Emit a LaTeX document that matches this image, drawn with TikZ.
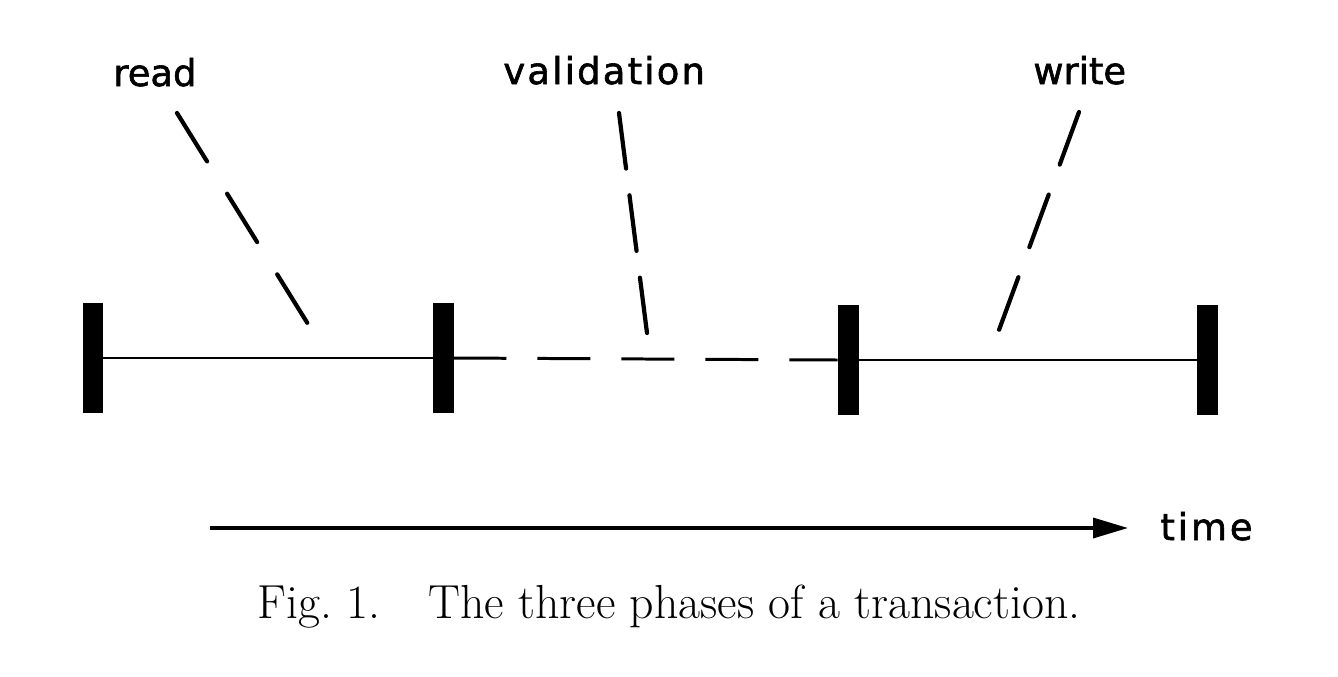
\documentclass[tikz,border=0pt]{standalone}
\usepackage{fontspec}
\newfontfamily\labelfont[FakeBold=1.6]{DejaVu Sans}
\usetikzlibrary{arrows.meta}
\begin{document}
\begin{tikzpicture}[x=0.02cm,y=-0.02cm,
  bar/.style={fill=black,inner sep=0pt,outer sep=0pt,minimum width=0.42cm,minimum height=2.2cm},
  phase/.style={line width=1.7pt},
  leader/.style={line width=2.4pt,line cap=round},
  lbl/.style={font=\labelfont\fontsize{21}{25}\selectfont,inner sep=0pt,anchor=base west},
  capt/.style={font=\fontsize{27.2}{31}\selectfont,inner sep=0pt,anchor=base},
]
\useasboundingbox (0,0) rectangle (1338,676);
% bars
\node[bar] (b1) at (93,358) {};
\node[bar] (b2) at (443,358) {};
\node[bar] (b3) at (848,360) {};
\node[bar] (b4) at (1207,360) {};
% phases
\draw[phase] (b1) -- (b2);
\draw[phase,dash pattern=on 1.06cm off 0.62cm] (b2.east) -- (b3.west);
\draw[phase] (b3) -- (b4);
% labels
\node[lbl] (read) at (113,86) {read};
\node[lbl] (valid) at (503,84) {\addfontfeature{LetterSpace=6}validation};
\node[lbl] (write) at (1033,84) {write};
\node[lbl] (time) at (1160,540) {\addfontfeature{LetterSpace=8}time};
% leader coordinates
\coordinate (r1) at (177,113);
\coordinate (r2) at (308,324);
\coordinate (v1) at (619,113);
\coordinate (v2) at (647,333);
\coordinate (w1) at (1079,112);
\coordinate (w2) at (999,330);
\draw[leader,dash pattern=on 1.14cm off 0.76cm] (r1) -- (r2);
\draw[leader,dash pattern=on 1.12cm off 0.54cm] (v1) -- (v2);
\draw[leader,dash pattern=on 1.12cm off 0.64cm] (w1) -- (w2);
% time arrow
\coordinate (t0) at (210,528);
\coordinate (t1) at (1128,528);
\draw[line width=2pt,-{Triangle[length=0.7cm,width=0.4cm]}] (t0) -- (t1);
% caption
\node[capt] (cap) at (669,618) {Fig.~1.\quad The three phases of a transaction.};
\end{tikzpicture}
\end{document}
